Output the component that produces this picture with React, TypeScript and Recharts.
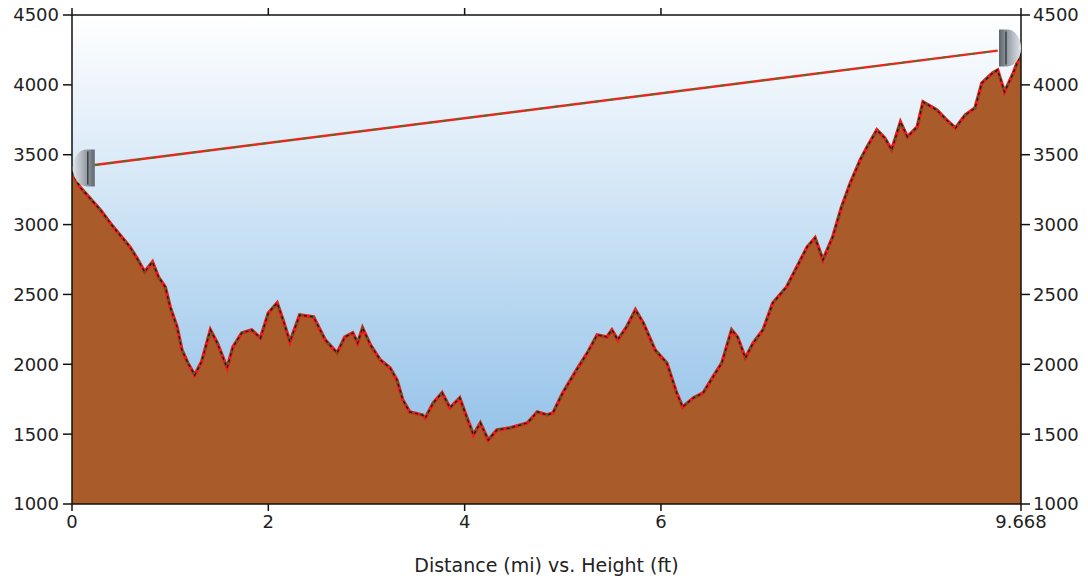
import React from "react";
import {
  ComposedChart,
  XAxis,
  YAxis,
  CartesianGrid,
  Area,
  Line,
  Scatter,
  Label,
} from "recharts";

// distance along the route (mi) and ground height (ft)
const dist = [
  0, 0.08, 0.29, 0.42, 0.59, 0.66, 0.74, 0.82, 0.88, 0.95, 1.0, 1.07, 1.12,
  1.18, 1.25, 1.32, 1.41, 1.48, 1.58, 1.64, 1.73, 1.83, 1.92, 2.0, 2.09, 2.15,
  2.22, 2.32, 2.46, 2.58, 2.7, 2.78, 2.86, 2.91, 2.96, 3.04, 3.14, 3.24, 3.31,
  3.37, 3.44, 3.57, 3.6, 3.68, 3.77, 3.85, 3.95, 4.02, 4.09, 4.16, 4.24, 4.33,
  4.46, 4.64, 4.74, 4.84, 4.9, 5.0, 5.14, 5.25, 5.35, 5.45, 5.5, 5.56, 5.65,
  5.74, 5.82, 5.94, 6.06, 6.16, 6.22, 6.33, 6.43, 6.53, 6.62, 6.72, 6.78, 6.86,
  6.94, 7.04, 7.14, 7.28, 7.49, 7.57, 7.65, 7.75, 7.84, 7.93, 8.03, 8.1, 8.2,
  8.28, 8.35, 8.44, 8.51, 8.61, 8.67, 8.81, 8.91, 9.0, 9.1, 9.2, 9.27, 9.38,
  9.43, 9.5, 9.59, 9.668,
];
const height = [
  3376, 3269, 3104, 2983, 2840, 2761, 2661, 2732, 2625, 2553, 2410, 2267, 2102,
  2009, 1923, 2017, 2246, 2152, 1974, 2124, 2224, 2246, 2188, 2367, 2439, 2317,
  2160, 2353, 2339, 2174, 2081, 2195, 2224, 2152, 2260, 2138, 2031, 1974, 1888,
  1745, 1659, 1637, 1616, 1723, 1795, 1688, 1759, 1623, 1494, 1580, 1458, 1530,
  1544, 1580, 1659, 1637, 1652, 1795, 1959, 2081, 2210, 2195, 2246, 2174, 2267,
  2389, 2296, 2102, 2009, 1795, 1694, 1759, 1795, 1909, 2009, 2246, 2195, 2045,
  2152, 2246, 2439, 2553, 2840, 2904, 2747, 2911, 3126, 3298, 3462, 3555, 3677,
  3620, 3534, 3734, 3627, 3698, 3877, 3820, 3749, 3691, 3784, 3834, 4013, 4085,
  4106, 3949, 4085, 4230,
];

// line of sight between the two antennas
const sightDist = [0.23, 9.43];
const sightHeight = [3426, 4245];

// antenna markers
const markerDist = [0.12, 9.556];
const markerHeight = [3405, 4264];
const markerSide = ["left", "right"];

const xTicks = [0, 2, 4, 6, 9.668];
const yTicks = [1000, 1500, 2000, 2500, 3000, 3500, 4000, 4500];

const profile = dist.map((d, i) => ({ dist: d, height: height[i] }));
const sight = sightDist.map((d, i) => ({ dist: d, los: sightHeight[i] }));
const markers = markerDist.map((d, i) => ({
  dist: d,
  mark: markerHeight[i],
  side: markerSide[i],
}));

const font = "'DejaVu Sans', Verdana, sans-serif";
const tickStyle = { fontSize: 18, fill: "#222", fontFamily: font };

const Antenna = (props: any) => {
  const { cx, cy, payload } = props;
  if (cx == null || cy == null) return null;
  const w = 22;
  const h = 37;
  const top = cy - h / 2;
  if (payload.side === "left") {
    const r = cx + w / 2;
    const d = `M${r},${top} L${r},${top + h} L${r - 8},${top + h} A${w - 8},${h / 2} 0 0 1 ${r - 8},${top} Z`;
    return (
      <g>
        <path d={d} fill="url(#antL)" />
        <line x1={r - 7} y1={top + 2} x2={r - 7} y2={top + h - 2} stroke="#3c3f44" strokeWidth={1.5} />
      </g>
    );
  }
  const l = cx - w / 2;
  const d = `M${l},${top} L${l},${top + h} L${l + 8},${top + h} A${w - 8},${h / 2} 0 0 0 ${l + 8},${top} Z`;
  return (
    <g>
      <path d={d} fill="url(#antR)" />
      <line x1={l + 7} y1={top + 2} x2={l + 7} y2={top + h - 2} stroke="#3c3f44" strokeWidth={1.5} />
    </g>
  );
};

export default function App() {
  return (
    <div style={{ margin: "-8px 0 0 -8px" }}>
      <ComposedChart
        width={1088}
        height={585}
        data={profile}
        margin={{ top: 10, right: 7, bottom: 6, left: 12 }}
      >
        <defs>
          <linearGradient id="bg" x1="0" y1="0" x2="0" y2="1">
            <stop offset="0%" stopColor="#ffffff" />
            <stop offset="100%" stopColor="#85bae6" />
          </linearGradient>
          <linearGradient id="antL" x1="0" y1="0" x2="1" y2="0">
            <stop offset="0%" stopColor="#e2e5ea" />
            <stop offset="60%" stopColor="#9aa0a8" />
            <stop offset="100%" stopColor="#5e646c" />
          </linearGradient>
          <linearGradient id="antR" x1="1" y1="0" x2="0" y2="0">
            <stop offset="0%" stopColor="#e2e5ea" />
            <stop offset="60%" stopColor="#9aa0a8" />
            <stop offset="100%" stopColor="#5e646c" />
          </linearGradient>
        </defs>
        <CartesianGrid horizontal={false} vertical={false} fill="url(#bg)" stroke="none" />
        <XAxis
          dataKey="dist"
          type="number"
          domain={[0, 9.668]}
          ticks={xTicks}
          allowDataOverflow
          interval={0}
          height={75}
          tick={tickStyle}
          tickSize={7}
          tickMargin={4}
          stroke="#111"
          strokeWidth={1.5}
          tickFormatter={(v: number) => String(v)}
        >
          <Label
            value="Distance (mi) vs. Height (ft)"
            position="insideBottom"
            offset={7}
            style={{ fontSize: 19, fill: "#222", fontFamily: font }}
          />
        </XAxis>
        <XAxis
          xAxisId="top"
          dataKey="dist"
          orientation="top"
          type="number"
          domain={[0, 9.668]}
          ticks={xTicks}
          allowDataOverflow
          interval={0}
          height={5}
          tickSize={9}
          stroke="#111"
          strokeWidth={1.5}
          tickFormatter={() => ""}
        />
        <YAxis
          type="number"
          domain={[1000, 4500]}
          ticks={yTicks}
          allowDataOverflow
          interval={0}
          width={60}
          tick={tickStyle}
          tickSize={9}
          tickMargin={4}
          stroke="#111"
          strokeWidth={1.5}
        />
        <YAxis
          yAxisId="right"
          orientation="right"
          type="number"
          domain={[1000, 4500]}
          ticks={yTicks}
          allowDataOverflow
          interval={0}
          width={60}
          tick={tickStyle}
          tickSize={9}
          tickMargin={3}
          stroke="#111"
          strokeWidth={1.5}
        />
        <Area
          dataKey="height"
          type="linear"
          fill="#a95c2a"
          fillOpacity={1}
          stroke="none"
          isAnimationActive={false}
        />
        <Line
          xAxisId="top"
          yAxisId="right"
          dataKey="height"
          type="linear"
          stroke="none"
          dot={false}
          activeDot={false}
          isAnimationActive={false}
        />
        <Line
          dataKey="height"
          type="linear"
          stroke="#e8201c"
          strokeWidth={3.5}
          dot={false}
          isAnimationActive={false}
        />
        <Line
          dataKey="height"
          type="linear"
          stroke="#3b6b1e"
          strokeWidth={2}
          strokeDasharray="4 7"
          dot={false}
          isAnimationActive={false}
        />
        <Line
          dataKey="height"
          type="linear"
          stroke="#151515"
          strokeWidth={1.3}
          strokeDasharray="3 3"
          dot={false}
          isAnimationActive={false}
        />
        <Line
          data={sight}
          dataKey="los"
          type="linear"
          stroke="#e8281e"
          strokeWidth={2.5}
          dot={false}
          isAnimationActive={false}
        />
        <Line
          data={sight}
          dataKey="los"
          type="linear"
          stroke="#3f7a22"
          strokeWidth={1.5}
          strokeDasharray="5 9"
          dot={false}
          isAnimationActive={false}
        />
        <Scatter
          data={markers}
          dataKey="mark"
          shape={Antenna}
          isAnimationActive={false}
        />
      </ComposedChart>
    </div>
  );
}
